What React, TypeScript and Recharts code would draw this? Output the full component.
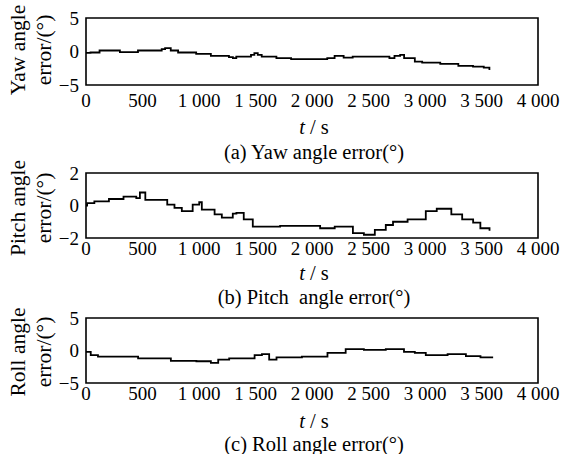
import React from "react";
import { LineChart, Line, XAxis, YAxis, ReferenceArea } from "recharts";

const X_TICKS = [0, 500, 1000, 1500, 2000, 2500, 3000, 3500, 4000];
const YAW_TICKS = [-5, 0, 5];
const PITCH_TICKS = [-2, 0, 2];
const ROLL_TICKS = [-5, 0, 5];

const yawTime = [0, 40, 120, 300, 460, 670, 700, 750, 815, 975, 1105, 1265, 1300, 1330, 1460, 1490, 1520, 1555, 1685, 1815, 2135, 2200, 2280, 2360, 2490, 2685, 2730, 2780, 2815, 2910, 2975, 3135, 3295, 3425, 3520, 3570];
const yawValue = [-0.2, -0.15, 0.15, -0.1, 0.15, 0.35, 0.5, 0.15, -0.15, -0.35, -0.65, -0.85, -1.0, -0.75, -0.5, -0.25, -0.5, -0.75, -1.0, -1.15, -1.0, -0.65, -0.9, -0.75, -0.75, -1.0, -0.65, -0.5, -1.0, -1.5, -1.65, -1.85, -2.15, -2.25, -2.4, -2.75];

const pitchTime = [0, 10, 74, 203, 332, 445, 477, 525, 719, 783, 848, 944, 1002, 1025, 1138, 1202, 1299, 1331, 1396, 1476, 1492, 1718, 2072, 2201, 2362, 2459, 2556, 2653, 2717, 2846, 3007, 3104, 3233, 3329, 3426, 3490, 3571];
const pitchValue = [0.0, 0.15, 0.25, 0.4, 0.55, 0.45, 0.8, 0.35, 0.05, -0.15, -0.35, 0.05, 0.2, -0.25, -0.55, -0.75, -0.5, -0.45, -0.85, -1.3, -1.3, -1.25, -1.4, -1.3, -1.7, -1.8, -1.5, -1.2, -1.0, -0.85, -0.35, -0.2, -0.55, -0.85, -1.05, -1.4, -1.55];

const rollTime = [0, 10, 42, 106, 461, 751, 977, 1105, 1170, 1267, 1492, 1557, 1621, 1686, 1911, 2137, 2298, 2459, 2653, 2814, 2910, 3007, 3200, 3362, 3491, 3603];
const rollValue = [-0.2, -0.2, -0.7, -0.95, -1.2, -1.6, -1.65, -1.9, -1.4, -1.2, -0.7, -0.55, -1.4, -1.05, -0.95, -0.35, 0.2, 0.1, 0.2, -0.2, -0.35, -0.7, -0.55, -0.85, -1.05, -1.05];

const FONT = "'Liberation Serif', 'Times New Roman', serif";
const TICK_FS = 19;
const LABEL_FS = 21.5;
const CAP_FS = 20.5;

const fmtX = (v: number) => (v >= 1000 ? `${Math.floor(v / 1000)} ${String(v % 1000).padStart(3, "0")}` : String(v));
const fmtY = (v: number) => (v < 0 ? `\u2212${Math.abs(v)}` : String(v));

function build(t: number[], v: number[]) {
  return t.map((x, i) => ({ t: x, v: v[i] }));
}

type PanelProps = {
  top: number;
  plotH: number;
  data: { t: number; v: number }[];
  yDomain: [number, number];
  yTicks: number[];
  xMargin: number;
};

function Panel({ top, plotH, data, yDomain, yTicks, xMargin }: PanelProps) {
  const mTop = 18;
  const xH = 30;
  return (
    <div style={{ position: "absolute", left: 0, top }}>
      <LineChart
        width={571}
        height={mTop + plotH + xH}
        data={data}
        margin={{ top: mTop, right: 33, bottom: 0, left: 0 }}
      >
        <XAxis
          dataKey="t"
          type="number"
          domain={[0, 4000]}
          ticks={X_TICKS}
          tickFormatter={fmtX}
          axisLine={false}
          tickLine={false}
          tickSize={0}
          tickMargin={xMargin}
          height={xH}
          interval={0}
          tick={{ fill: "#000", fontSize: TICK_FS, fontFamily: FONT }}
        />
        <XAxis
          xAxisId="top"
          orientation="top"
          type="number"
          domain={[0, 4000]}
          ticks={X_TICKS}
          tickFormatter={() => ""}
          axisLine={false}
          tickLine={{ stroke: "#555" }}
          tickSize={3}
          mirror
          height={0}
        />
        <YAxis
          type="number"
          domain={yDomain}
          ticks={yTicks}
          tickFormatter={fmtY}
          axisLine={false}
          tickLine={false}
          tickSize={0}
          tickMargin={7}
          width={86}
          interval={0}
          tick={{ fill: "#000", fontSize: TICK_FS, fontFamily: FONT }}
        />
        <ReferenceArea
          x1={0}
          x2={4000}
          y1={yDomain[0]}
          y2={yDomain[1]}
          fill="none"
          stroke="#000"
          strokeWidth={1.6}
          ifOverflow="extendDomain"
        />
        <Line
          dataKey="v"
          type="stepAfter"
          stroke="#000"
          strokeWidth={1.8}
          dot={false}
          isAnimationActive={false}
        />
      </LineChart>
    </div>
  );
}

function YLabel({ cy, line1, line2 }: { cy: number; line1: string; line2: string }) {
  return (
    <g>
      <text x={0} y={0} transform={`translate(25 ${cy}) rotate(-90)`} textAnchor="middle" fontSize={LABEL_FS} fontFamily={FONT} fill="#000">
        {line1}
      </text>
      <text x={0} y={0} transform={`translate(51 ${cy}) rotate(-90)`} textAnchor="middle" fontSize={LABEL_FS} fontFamily={FONT} fill="#000">
        {line2}
      </text>
    </g>
  );
}

function Caption({ y, children }: { y: number; children: React.ReactNode }) {
  return (
    <text x={314} y={y} textAnchor="middle" fontSize={CAP_FS} fontFamily={FONT} fill="#000" style={{ whiteSpace: "pre" }}>
      {children}
    </text>
  );
}

export default function App() {
  return (
    <div style={{ position: "absolute", left: 0, top: 0, width: 571, height: 454, background: "#fff", overflow: "hidden" }}>
      <Panel top={0} plotH={67} data={build(yawTime, yawValue)} yDomain={[-5, 5]} yTicks={YAW_TICKS} xMargin={9} />
      <Panel top={155} plotH={65} data={build(pitchTime, pitchValue)} yDomain={[-2, 2]} yTicks={PITCH_TICKS} xMargin={4} />
      <Panel top={300} plotH={65} data={build(rollTime, rollValue)} yDomain={[-5, 5]} yTicks={ROLL_TICKS} xMargin={4} />
      <svg width={571} height={454} style={{ position: "absolute", left: 0, top: 0, pointerEvents: "none" }}>
        <YLabel cy={50} line1="Yaw angle" line2="error/(°)" />
        <YLabel cy={208} line1="Pitch angle" line2="error/(°)" />
        <YLabel cy={352} line1="Roll angle" line2="error/(°)" />
        <Caption y={134}><tspan fontStyle="italic">t</tspan> / s</Caption>
        <Caption y={159}>(a) Yaw angle error(°)</Caption>
        <Caption y={280}><tspan fontStyle="italic">t</tspan> / s</Caption>
        <Caption y={304}>(b) Pitch  angle error(°)</Caption>
        <Caption y={428}><tspan fontStyle="italic">t</tspan> / s</Caption>
        <Caption y={451}>(c) Roll angle error(°)</Caption>
      </svg>
    </div>
  );
}
